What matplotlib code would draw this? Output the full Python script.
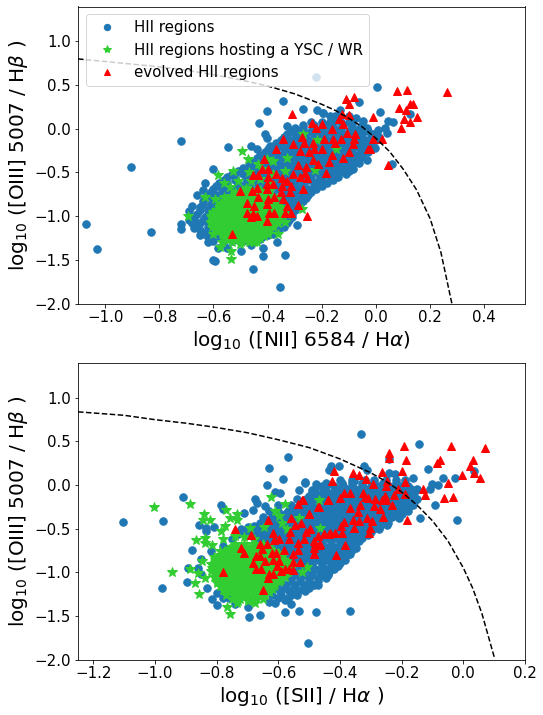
import matplotlib
matplotlib.use('Agg')
import matplotlib.pyplot as plt

# values, (log x ratio, log [OIII]/Hb)
nii_hii = [
    (-1.07, -1.09), (-1.03, -1.38), (-0.904, -0.436), (-0.83, -1.18), (-0.719, -0.135), (-0.545, -0.208),
    (-0.22, 0.59), (0.005, 0.477), (-0.342, 0.318), (-0.404, 0.203), (-0.431, 0.07), (-0.271, 0.222),
    (-0.219, 0.211), (-0.197, 0.181), (-0.062, 0.306), (-0.133, 0.211), (-0.152, 0.146), (0.014, 0.192),
    (0.125, 0.165), (0.045, 0.089), (0.061, 0.074), (0.033, 0.013), (0.008, -0.017), (0.039, -0.052),
    (0.005, -0.082), (-0.047, 0.089), (-0.074, 0.12), (-0.035, 0.013), (-0.035, -0.36), (-0.062, -0.394),
    (-0.086, -0.463), (0.058, -0.406), (-0.004, -0.223), (-0.197, 0.177), (-0.158, 0.127), (-0.33, 0.032),
    (-0.41, -0.063), (-0.404, -0.101), (-0.355, -1.806), (-0.453, -1.61), (-0.336, -1.444), (-0.594, -1.509),
    (-0.416, -1.368), (-0.416, -1.452), (-0.364, -1.292), (-0.293, -1.102), (-0.6, -0.46), (-0.63, -0.62),
    (-0.72, -1.09), (-0.72, -1.15), (-0.68, -0.88), (-0.69, -0.94), (-0.66, -0.76), (-0.64, -0.7),
    (-0.6, -1.5), (-0.585, -1.36), (-0.62, -1.3), (-0.65, -1.22), (-0.67, -1.13), (-0.69, -1.04),
    (-0.55, -1.36), (-0.5, -1.4), (-0.46, -1.33), (-0.43, -1.26), (-0.4, -1.22), (-0.36, -1.17),
]
# dense part of the same series, one row per [OIII]/Hb level
nii_hii_oiii = [-1.28, -1.2, -1.12, -1.04, -0.97, -0.9, -0.83, -0.76, -0.69, -0.62, -0.55, -0.48, -0.41, -0.34, -0.27, -0.2, -0.13, -0.06, 0.01, 0.08, 0.15,
                -0.585, -0.515, -0.445, -0.375, -0.305, -0.235, -0.165, -0.095, -0.025, 0.045, -0.655, -0.725, -0.795, -0.865, -0.935, -1.005, -1.08, -1.16, -1.24]
nii_hii_rows = [
    [-0.6, -0.56, -0.53, -0.49, -0.45],
    [-0.63, -0.59, -0.56, -0.52, -0.49, -0.45, -0.42, -0.38],
    [-0.66, -0.62, -0.59, -0.55, -0.52, -0.48, -0.45, -0.41, -0.38, -0.34],
    [-0.67, -0.64, -0.6, -0.57, -0.53, -0.5, -0.46, -0.43, -0.39, -0.36, -0.32],
    [-0.66, -0.62, -0.59, -0.55, -0.52, -0.48, -0.45, -0.41, -0.38, -0.34, -0.31],
    [-0.65, -0.61, -0.58, -0.54, -0.51, -0.47, -0.44, -0.4, -0.37, -0.33, -0.3],
    [-0.64, -0.6, -0.57, -0.53, -0.5, -0.46, -0.43, -0.39, -0.36, -0.32, -0.29, -0.27],
    [-0.62, -0.59, -0.55, -0.52, -0.48, -0.45, -0.41, -0.38, -0.34, -0.31, -0.27, -0.25],
    [-0.6, -0.57, -0.53, -0.5, -0.46, -0.43, -0.39, -0.36, -0.32, -0.29, -0.25, -0.22],
    [-0.58, -0.55, -0.51, -0.48, -0.44, -0.41, -0.37, -0.34, -0.3, -0.27, -0.23, -0.2, -0.18],
    [-0.55, -0.52, -0.48, -0.45, -0.41, -0.38, -0.34, -0.31, -0.27, -0.24, -0.2, -0.17, -0.14],
    [-0.51, -0.47, -0.44, -0.4, -0.37, -0.33, -0.3, -0.26, -0.23, -0.19, -0.16, -0.12, -0.1],
    [-0.47, -0.44, -0.4, -0.37, -0.33, -0.3, -0.26, -0.23, -0.19, -0.16, -0.12, -0.09],
    [-0.44, -0.41, -0.37, -0.34, -0.3, -0.27, -0.23, -0.2, -0.16, -0.13, -0.09, -0.06],
    [-0.41, -0.38, -0.34, -0.31, -0.27, -0.24, -0.2, -0.17, -0.13, -0.1, -0.06, -0.03],
    [-0.46, -0.39, -0.35, -0.32, -0.28, -0.25, -0.21, -0.18, -0.14, -0.11, -0.07, -0.04],
    [-0.35, -0.32, -0.28, -0.25, -0.21, -0.18, -0.14, -0.11, -0.07, -0.04, 0.0],
    [-0.33, -0.29, -0.26, -0.22, -0.19, -0.15, -0.12, -0.08, -0.05, -0.01],
    [-0.3, -0.27, -0.23, -0.2, -0.16, -0.13, -0.09, -0.06],
    [-0.24, -0.2, -0.17, -0.13, -0.1],
    [-0.17, -0.14, -0.1],
    [-0.56, -0.52, -0.47, -0.43, -0.39, -0.35, -0.31, -0.25, -0.21, -0.16],
    [-0.53, -0.49, -0.46, -0.42, -0.35, -0.32, -0.28, -0.24, -0.21, -0.18, -0.14, -0.11],
    [-0.49, -0.45, -0.42, -0.38, -0.35, -0.31, -0.28, -0.24, -0.21, -0.17, -0.14, -0.11],
    [-0.46, -0.42, -0.39, -0.35, -0.32, -0.28, -0.25, -0.21, -0.18, -0.14, -0.11, -0.07],
    [-0.43, -0.39, -0.36, -0.32, -0.29, -0.25, -0.22, -0.18, -0.15, -0.11, -0.08, -0.05],
    [-0.44, -0.4, -0.37, -0.33, -0.3, -0.26, -0.23, -0.19, -0.16, -0.12, -0.09, -0.05, -0.02],
    [-0.37, -0.33, -0.3, -0.26, -0.23, -0.19, -0.16, -0.12, -0.09, -0.05, -0.02],
    [-0.34, -0.3, -0.27, -0.23, -0.2, -0.16, -0.13, -0.09, -0.06, -0.02, 0.01],
    [-0.31, -0.28, -0.24, -0.21, -0.17, -0.14, -0.1, -0.07, -0.03],
    [-0.27, -0.23, -0.19, -0.16, -0.12, -0.09, -0.05],
    [-0.59, -0.55, -0.51, -0.47, -0.34, -0.3, -0.27, -0.23, -0.2],
    [-0.61, -0.57, -0.53, -0.33, -0.3, -0.27, -0.24],
    [-0.63, -0.6, -0.56, -0.34, -0.31, -0.28, -0.26],
    [-0.64, -0.61, -0.58, -0.34, -0.31, -0.28],
    [-0.65, -0.62, -0.59, -0.33, -0.3],
    [-0.67, -0.63, -0.6, -0.34, -0.31],
    [-0.68, -0.65, -0.62, -0.36, -0.33],
    [-0.65, -0.62, -0.39, -0.36],
    [-0.62, -0.58, -0.42],
]

nii_wr = [
    (-0.693, -0.995), (-0.631, -0.778), (-0.582, -0.527), (-0.527, -0.482), (-0.494, -0.253), (-0.471, -0.348),
    (-0.435, -0.405), (-0.379, -0.367), (-0.328, -0.337), (-0.336, -0.482), (-0.268, -0.063), (-0.216, -0.128),
    (-0.146, -0.234), (-0.225, -0.474), (-0.539, -0.672), (-0.508, -0.596), (-0.594, -0.805), (-0.576, -1.357),
    (-0.535, -1.395), (-0.535, -1.49), (-0.336, -1.071), (-0.398, -1.166), (-0.502, -1.319), (-0.275, -0.919),
    (-0.404, -0.348), (-0.47, -0.5), (-0.43, -0.58), (-0.39, -0.62), (-0.48, -0.68), (-0.44, -0.72),
    (-0.52, -0.72), (-0.56, -0.78), (-0.42, -0.46), (-0.38, -0.52), (-0.46, -0.6), (-0.56, -0.62),
    (-0.61, -1.07), (-0.6, -1.2), (-0.57, -1.3), (-0.44, -1.3), (-0.36, -1.2), (-0.33, -0.98),
]
nii_wr_oiii = [-0.7, -0.75, -0.8, -0.85, -0.9, -0.95, -1.0, -1.05, -1.1, -1.15, -1.2, -1.25, -1.3,
               -0.725, -0.775, -0.825, -0.875, -0.925, -0.975, -1.025, -1.075, -1.125, -1.175, -1.225, -1.275]
nii_wr_rows = [
    [-0.49, -0.46, -0.43, -0.39],
    [-0.52, -0.49, -0.46, -0.43, -0.4],
    [-0.55, -0.52, -0.49, -0.46, -0.43, -0.4, -0.37],
    [-0.57, -0.54, -0.52, -0.49, -0.47, -0.44, -0.41, -0.38],
    [-0.58, -0.56, -0.53, -0.51, -0.48, -0.46, -0.43, -0.41, -0.38, -0.35],
    [-0.6, -0.57, -0.55, -0.52, -0.5, -0.47, -0.45, -0.42, -0.4, -0.37, -0.35],
    [-0.61, -0.58, -0.56, -0.53, -0.51, -0.48, -0.46, -0.43, -0.41, -0.38, -0.36],
    [-0.6, -0.57, -0.55, -0.52, -0.5, -0.47, -0.45, -0.42, -0.4, -0.37],
    [-0.6, -0.58, -0.55, -0.53, -0.5, -0.48, -0.45, -0.43, -0.4, -0.38],
    [-0.59, -0.56, -0.54, -0.51, -0.49, -0.46, -0.44, -0.41, -0.39],
    [-0.57, -0.55, -0.52, -0.5, -0.47, -0.45, -0.42, -0.4],
    [-0.55, -0.53, -0.5, -0.48, -0.45, -0.43],
    [-0.53, -0.5, -0.47, -0.45],
    [-0.505, -0.475, -0.445, -0.415],
    [-0.535, -0.505, -0.475, -0.445, -0.415, -0.385],
    [-0.56, -0.53, -0.505, -0.475, -0.45, -0.42, -0.39],
    [-0.575, -0.55, -0.525, -0.5, -0.475, -0.45, -0.425, -0.395, -0.365],
    [-0.59, -0.565, -0.54, -0.515, -0.49, -0.465, -0.44, -0.415, -0.39, -0.36],
    [-0.6, -0.575, -0.55, -0.525, -0.5, -0.475, -0.45, -0.425, -0.4, -0.375, -0.35],
    [-0.605, -0.58, -0.555, -0.53, -0.505, -0.48, -0.455, -0.43, -0.405, -0.38, -0.355],
    [-0.61, -0.585, -0.56, -0.535, -0.51, -0.485, -0.46, -0.435, -0.41, -0.385, -0.36],
    [-0.605, -0.58, -0.555, -0.53, -0.505, -0.48, -0.455, -0.43, -0.405, -0.38],
    [-0.58, -0.555, -0.53, -0.505, -0.48, -0.455, -0.43, -0.405],
    [-0.565, -0.54, -0.515, -0.49, -0.465, -0.44, -0.415],
    [-0.545, -0.52, -0.495, -0.47, -0.445],
]

nii_evolved = [
    (-0.112, 0.337), (-0.08, 0.367), (-0.1, 0.279), (-0.309, 0.165), (-0.127, 0.173), (-0.136, 0.116),
    (-0.099, 0.154), (-0.235, 0.07), (-0.201, 0.051), (-0.222, 0.013), (-0.121, 0.051), (-0.161, -0.006),
    (-0.106, -0.044), (-0.078, -0.063), (-0.08, -0.12), (-0.029, -0.234), (-0.342, -0.112), (-0.275, -0.09),
    (-0.305, -0.177), (-0.265, -0.158), (-0.232, -0.158), (-0.191, -0.12), (-0.158, -0.12), (-0.13, -0.112),
    (-0.152, -0.158), (-0.084, -0.17), (-0.229, -0.234), (-0.246, -0.265), (-0.198, -0.234), (-0.281, -0.253),
    (-0.164, -0.303), (-0.099, -0.265), (-0.121, -0.337), (-0.369, -0.234), (-0.412, -0.348), (-0.232, -0.36),
    (-0.173, -0.379), (-0.213, -0.405), (-0.287, -0.417), (-0.26, -0.432), (-0.4, -0.455), (-0.422, -0.455),
    (-0.262, -0.501), (-0.308, -0.512), (-0.186, -0.501), (-0.453, -0.531), (-0.435, -0.531), (-0.369, -0.512),
    (-0.398, -0.55), (-0.256, -0.558), (-0.281, -0.55), (-0.346, -0.565), (-0.33, -0.596), (-0.315, -0.653),
    (-0.404, -0.634), (-0.379, -0.634), (-0.348, -0.653), (-0.438, -0.679), (-0.268, -0.691), (-0.502, -0.717),
    (-0.459, -0.717), (-0.404, -0.691), (-0.352, -0.729), (-0.318, -0.729), (-0.435, -0.778), (-0.377, -0.786),
    (-0.4, -0.805), (-0.342, -0.805), (-0.475, -0.854), (-0.404, -0.862), (-0.289, -0.873), (-0.449, -0.881),
    (-0.328, -0.881), (-0.394, -0.969), (-0.478, -0.969), (-0.453, -0.976), (-0.441, -0.995), (-0.377, -0.969),
    (-0.336, -0.969), (-0.314, -0.969), (-0.256, -1.003), (-0.462, -1.014), (-0.401, -1.06), (-0.53, -1.205),
    (0.078, 0.432), (0.115, 0.443), (0.263, 0.42), (0.086, 0.241), (0.125, 0.287), (0.135, 0.287),
    (0.11, 0.215), (0.152, 0.139), (0.104, 0.116), (0.125, 0.081), (0.093, 0.013), (-0.01, 0.139),
    (0.023, -0.12), (-0.01, -0.12), (-0.022, -0.234), (0.043, -0.409),
]

sii_hii = [
    (-1.104, -0.425), (-0.911, -0.14), (-0.973, -0.414), (-0.978, -1.182), (-0.892, -0.954), (-0.895, -1.114),
    (-0.881, -0.748), (-0.859, -0.452), (-0.834, -0.49), (-0.834, -0.53), (-0.787, -0.231), (-0.78, -0.273),
    (-0.81, -0.482), (-0.713, -0.318), (-0.683, -0.28), (-0.643, -0.242), (-0.67, -0.204), (-0.677, -0.155),
    (-0.637, 0.005), (-0.629, 0.195), (-0.57, 0.317), (-0.586, 0.074), (-0.515, 0.028), (-0.534, -0.052),
    (-0.477, 0.016), (-0.445, 0.024), (-0.491, -0.052), (-0.594, -0.09), (-0.61, -0.08), (-0.694, -1.509),
    (-0.661, -1.49), (-0.578, -1.452), (-0.534, -1.441), (-0.479, -1.452), (-0.612, -1.353), (-0.558, -1.365),
    (-0.8, -1.376), (-0.816, -1.308), (-0.7, -1.403), (-0.503, -1.806), (-0.333, 0.587), (-0.145, 0.473),
    (-0.116, 0.188), (-0.164, 0.081), (-0.066, 0.081), (-0.026, 0.081), (0.034, 0.157), (-0.102, 0.016),
    (-0.082, 0.005), (-0.107, -0.044), (-0.091, -0.223), (-0.142, -0.383), (-0.021, -0.406), (-0.164, -0.23),
    (-0.183, -0.242), (-0.21, -0.376), (-0.248, -0.463), (-0.285, -0.49), (-0.349, -0.718), (-0.367, -0.794),
    (-0.388, -0.851), (-0.413, -0.916), (-0.369, -1.441), (-0.428, 0.214), (-0.404, 0.214), (-0.437, 0.169),
    (-0.323, 0.222), (-0.313, 0.169), (-0.242, 0.138), (-0.221, 0.127), (-0.242, 0.302), (-0.515, 0.032),
    (-0.442, 0.005), (-0.394, 0.024), (-0.356, 0.043), (-0.85, -0.85), (-0.86, -0.95), (-0.85, -1.02),
    (-0.83, -1.18), (-0.8, -1.24), (-0.82, -0.76), (-0.78, -0.7), (-0.75, -0.62), (-0.73, -0.56),
    (-0.7, -0.48), (-0.78, -1.3), (-0.74, -1.36), (-0.63, -1.34), (-0.58, -1.32),
]
sii_hii_oiii = [-1.26, -1.18, -1.1, -1.03, -0.96, -0.89, -0.82, -0.75, -0.68, -0.61, -0.54, -0.47, -0.4, -0.33, -0.26, -0.19, -0.12, -0.05, 0.02,
                -1.22, -1.14, -1.065, -0.995, -0.925, -0.855, -0.785, -0.715, -0.645, -0.575, -0.505, -0.435, -0.365, -0.295, -0.225, -0.155, -0.085, -0.015, 0.06, -1.3]
sii_hii_rows = [
    [-0.65, -0.62, -0.59, -0.56, -0.54],
    [-0.64, -0.61, -0.58, -0.55, -0.52, -0.5],
    [-0.62, -0.59, -0.56, -0.53, -0.5, -0.47],
    [-0.61, -0.58, -0.55, -0.52, -0.49, -0.46, -0.44],
    [-0.6, -0.57, -0.54, -0.51, -0.48, -0.45, -0.42],
    [-0.61, -0.58, -0.55, -0.52, -0.49, -0.46, -0.43, -0.4],
    [-0.6, -0.57, -0.54, -0.51, -0.48, -0.45, -0.42, -0.39],
    [-0.62, -0.59, -0.56, -0.53, -0.5, -0.47, -0.44, -0.41, -0.38, -0.36],
    [-0.64, -0.61, -0.58, -0.55, -0.52, -0.49, -0.46, -0.43, -0.4, -0.37, -0.35],
    [-0.68, -0.65, -0.62, -0.59, -0.56, -0.53, -0.5, -0.47, -0.44, -0.41, -0.38, -0.35, -0.33],
    [-0.71, -0.68, -0.65, -0.62, -0.59, -0.56, -0.53, -0.5, -0.47, -0.44, -0.41, -0.38, -0.35, -0.32, -0.3],
    [-0.68, -0.65, -0.62, -0.59, -0.56, -0.53, -0.5, -0.47, -0.44, -0.41, -0.38, -0.35, -0.32, -0.29, -0.27],
    [-0.64, -0.61, -0.58, -0.55, -0.52, -0.49, -0.46, -0.43, -0.4, -0.37, -0.34, -0.31, -0.28, -0.25],
    [-0.58, -0.55, -0.52, -0.49, -0.46, -0.43, -0.4, -0.37, -0.34, -0.31, -0.28, -0.25, -0.22, -0.2],
    [-0.55, -0.52, -0.49, -0.46, -0.43, -0.4, -0.37, -0.34, -0.31, -0.28, -0.25, -0.22, -0.19],
    [-0.52, -0.49, -0.46, -0.43, -0.4, -0.37, -0.34, -0.31, -0.28, -0.25, -0.22, -0.19, -0.16],
    [-0.5, -0.47, -0.44, -0.41, -0.38, -0.35, -0.32, -0.29, -0.26, -0.23, -0.2, -0.17],
    [-0.48, -0.45, -0.41, -0.38, -0.35, -0.32, -0.29, -0.26, -0.23, -0.2, -0.17, -0.15],
    [-0.36, -0.33, -0.29, -0.26, -0.22, -0.19],
    [-0.655, -0.625, -0.595, -0.565, -0.535, -0.515],
    [-0.635, -0.605, -0.575, -0.545, -0.515, -0.485, -0.47],
    [-0.62, -0.59, -0.56, -0.53, -0.5, -0.47, -0.445],
    [-0.615, -0.585, -0.555, -0.525, -0.495, -0.465, -0.435],
    [-0.61, -0.58, -0.55, -0.52, -0.49, -0.46, -0.43, -0.405],
    [-0.59, -0.56, -0.53, -0.5, -0.47, -0.44, -0.41, -0.385],
    [-0.58, -0.55, -0.52, -0.49, -0.46, -0.43, -0.4, -0.37],
    [-0.6, -0.57, -0.54, -0.51, -0.48, -0.45, -0.42, -0.39, -0.355],
    [-0.67, -0.64, -0.61, -0.58, -0.55, -0.52, -0.49, -0.46, -0.43, -0.4, -0.37, -0.34],
    [-0.7, -0.67, -0.64, -0.61, -0.58, -0.55, -0.52, -0.49, -0.46, -0.43, -0.4, -0.37, -0.34, -0.31],
    [-0.72, -0.69, -0.66, -0.63, -0.6, -0.57, -0.54, -0.51, -0.48, -0.45, -0.42, -0.39, -0.36, -0.33, -0.3, -0.275],
    [-0.66, -0.63, -0.6, -0.57, -0.54, -0.51, -0.48, -0.45, -0.42, -0.39, -0.36, -0.33, -0.3, -0.27, -0.245],
    [-0.65, -0.62, -0.59, -0.56, -0.53, -0.5, -0.47, -0.44, -0.41, -0.38, -0.35, -0.32, -0.29, -0.26, -0.23],
    [-0.63, -0.6, -0.57, -0.54, -0.51, -0.48, -0.45, -0.42, -0.39, -0.36, -0.33, -0.3, -0.27, -0.24, -0.21, -0.18],
    [-0.6, -0.56, -0.53, -0.5, -0.47, -0.44, -0.41, -0.38, -0.35, -0.32, -0.29, -0.26, -0.23, -0.2, -0.17],
    [-0.54, -0.51, -0.48, -0.45, -0.42, -0.39, -0.36, -0.33, -0.3, -0.27, -0.24, -0.21, -0.18, -0.15],
    [-0.49, -0.46, -0.43, -0.4, -0.37, -0.34, -0.31, -0.28, -0.25, -0.22, -0.19, -0.16],
    [-0.46, -0.42, -0.39, -0.36, -0.33, -0.3, -0.27, -0.24, -0.21, -0.18],
    [-0.4, -0.36, -0.32, -0.29, -0.25, -0.22, -0.19],
    [-0.76, -0.6, -0.57],
]

sii_wr = [
    (-1.005, -0.254), (-0.888, -0.212), (-0.944, -0.996), (-0.841, -0.337), (-0.823, -0.395), (-0.843, -0.395),
    (-0.868, -0.63), (-0.837, -0.604), (-0.837, -0.661), (-0.77, -0.28), (-0.758, -0.376), (-0.735, -0.337),
    (-0.735, -0.395), (-0.787, -0.528), (-0.773, -0.471), (-0.78, -0.623), (-0.816, -0.691), (-0.848, -0.87),
    (-0.886, -0.965), (-0.862, -1.003), (-0.872, -1.125), (-0.856, -1.251), (-0.837, -1.06), (-0.767, -1.395),
    (-0.756, -1.479), (-0.735, -1.357), (-0.675, -1.353), (-0.624, -0.136), (-0.58, -0.212), (-0.612, -0.299),
    (-0.599, -0.349), (-0.589, -0.44), (-0.648, -0.478), (-0.691, -0.49), (-0.572, -0.501), (-0.534, -0.376),
    (-0.469, -0.166), (-0.466, -0.497), (-0.524, -0.992), (-0.507, -0.935), (-0.594, -1.099), (-0.621, -1.194),
    (-0.742, -0.58), (-0.71, -0.6), (-0.68, -0.62), (-0.6, -1.0), (-0.57, -1.0), (-0.56, -0.92),
    (-0.79, -0.76), (-0.81, -0.83), (-0.82, -0.9), (-0.82, -0.98), (-0.81, -1.05), (-0.8, -1.12),
]
sii_wr_oiii = [-0.68, -0.73, -0.78, -0.83, -0.88, -0.93, -0.98, -1.03, -1.08, -1.13, -1.18, -1.23, -1.28, -1.33,
               -0.705, -0.755, -0.805, -0.855, -0.905, -0.955, -1.005, -1.055, -1.105, -1.155, -1.205, -1.255, -1.305]
sii_wr_rows = [
    [-0.74, -0.71, -0.68, -0.65],
    [-0.76, -0.73, -0.71, -0.68, -0.66, -0.63],
    [-0.78, -0.75, -0.73, -0.7, -0.68, -0.65, -0.63, -0.6],
    [-0.79, -0.77, -0.74, -0.72, -0.69, -0.67, -0.64, -0.62, -0.59],
    [-0.8, -0.77, -0.75, -0.72, -0.7, -0.67, -0.65, -0.62, -0.6, -0.57],
    [-0.8, -0.78, -0.75, -0.73, -0.7, -0.68, -0.65, -0.63, -0.6, -0.58],
    [-0.8, -0.77, -0.75, -0.72, -0.7, -0.67, -0.65, -0.62, -0.6, -0.57],
    [-0.79, -0.77, -0.74, -0.72, -0.69, -0.67, -0.64, -0.62, -0.59],
    [-0.79, -0.76, -0.74, -0.71, -0.69, -0.66, -0.64, -0.61, -0.59],
    [-0.78, -0.76, -0.73, -0.71, -0.68, -0.66, -0.63, -0.61],
    [-0.77, -0.74, -0.72, -0.69, -0.67, -0.64, -0.62],
    [-0.76, -0.73, -0.71, -0.68, -0.66, -0.63],
    [-0.74, -0.71, -0.69, -0.66],
    [-0.73, -0.7, -0.68],
    [-0.755, -0.725, -0.695, -0.665, -0.635],
    [-0.775, -0.745, -0.72, -0.695, -0.67, -0.645, -0.615],
    [-0.79, -0.765, -0.74, -0.715, -0.69, -0.665, -0.64, -0.615, -0.59],
    [-0.805, -0.78, -0.755, -0.73, -0.705, -0.68, -0.655, -0.63, -0.605, -0.58],
    [-0.815, -0.79, -0.765, -0.74, -0.715, -0.69, -0.665, -0.64, -0.615, -0.59, -0.56],
    [-0.815, -0.79, -0.765, -0.74, -0.715, -0.69, -0.665, -0.64, -0.615, -0.59, -0.56],
    [-0.81, -0.785, -0.76, -0.735, -0.71, -0.685, -0.66, -0.635, -0.61, -0.585],
    [-0.805, -0.78, -0.755, -0.73, -0.705, -0.68, -0.655, -0.63, -0.605, -0.58],
    [-0.8, -0.775, -0.75, -0.725, -0.7, -0.675, -0.65, -0.625, -0.6],
    [-0.79, -0.765, -0.74, -0.715, -0.69, -0.665, -0.64, -0.615],
    [-0.78, -0.755, -0.73, -0.705, -0.68, -0.655, -0.63],
    [-0.77, -0.745, -0.72, -0.695, -0.67, -0.645],
    [-0.75, -0.725, -0.7, -0.675, -0.65],
]

sii_evolved = [
    (-0.742, -0.509), (-0.635, -0.395), (-0.688, -0.577), (-0.721, -0.718), (-0.71, -0.775), (-0.781, -0.992),
    (-0.65, -1.205), (-0.661, -0.672), (-0.637, -0.672), (-0.653, -0.729), (-0.672, -0.813), (-0.659, -0.813),
    (-0.643, -0.87), (-0.681, -0.889), (-0.672, -0.965), (-0.656, -0.958), (-0.632, -1.015), (-0.618, -1.015),
    (-0.635, -1.06), (-0.621, -0.775), (-0.608, -0.775), (-0.616, -0.863), (-0.599, -0.87), (-0.605, -0.927),
    (-0.592, -0.984), (-0.578, -0.958), (-0.564, -0.958), (-0.551, -0.973), (-0.553, -0.878), (-0.554, -0.794),
    (-0.583, -0.748), (-0.531, -0.878), (-0.537, -0.748), (-0.537, -0.661), (-0.567, -0.615), (-0.613, -0.634),
    (-0.599, -0.623), (-0.618, -0.547), (-0.562, -0.535), (-0.559, -0.376), (-0.547, -0.452), (-0.527, -0.44),
    (-0.537, -0.212), (-0.522, -0.166), (-0.502, -0.326), (-0.47, -0.25), (-0.44, -0.166), (-0.511, -0.535),
    (-0.499, -0.509), (-0.516, -0.623), (-0.486, -0.718), (-0.486, -0.794), (-0.466, -0.68), (-0.47, -0.585),
    (-0.453, -0.566), (-0.437, -0.558), (-0.483, -0.642), (-0.194, 0.443), (-0.242, 0.367), (-0.24, 0.309),
    (-0.187, 0.29), (-0.041, 0.443), (0.069, 0.424), (-0.077, 0.29), (-0.087, 0.252), (0.031, 0.29),
    (0.021, 0.214), (0.034, 0.138), (-0.005, 0.119), (0.053, 0.081), (-0.051, 0.024), (-0.418, 0.165),
    (-0.359, 0.138), (-0.337, 0.119), (-0.264, 0.15), (-0.199, 0.157), (-0.316, 0.073), (-0.293, 0.016),
    (-0.248, 0.051), (-0.251, -0.006), (-0.19, 0.035), (-0.427, 0.051), (-0.213, -0.044), (-0.226, -0.109),
    (-0.188, -0.102), (-0.132, -0.044), (-0.123, -0.109), (-0.064, -0.147), (-0.034, -0.132), (-0.369, -0.09),
    (-0.388, -0.09), (-0.399, -0.147), (-0.44, -0.166), (-0.52, -0.166), (-0.327, -0.09), (-0.32, -0.14),
    (-0.309, -0.147), (-0.285, -0.159), (-0.253, -0.128), (-0.264, -0.166), (-0.25, -0.166), (-0.334, -0.223),
    (-0.367, -0.261), (-0.343, -0.307), (-0.291, -0.242), (-0.269, -0.269), (-0.231, -0.231), (-0.469, -0.25),
    (-0.502, -0.326), (-0.359, -0.395), (-0.34, -0.414), (-0.388, -0.421), (-0.397, -0.471), (-0.313, -0.383),
    (-0.296, -0.414), (-0.356, -0.49), (-0.302, -0.497), (-0.307, -0.547), (-0.262, -0.364), (-0.184, -0.406),
    (-0.499, -0.509), (-0.394, -0.547), (-0.415, -0.547), (-0.434, -0.554), (-0.453, -0.566), (-0.385, -0.691),
    (-0.413, -0.806), (-0.48, -0.68), (-0.469, -0.687), (-0.486, -0.794),
]

# dashed demarcation curves
nii_curve_x = [-1.1, -1.0, -0.9, -0.8, -0.7, -0.6, -0.5, -0.4, -0.3, -0.2, -0.15, -0.1, -0.05, 0.0, 0.05, 0.1, 0.15, 0.2, 0.24, 0.28]
nii_curve_y = [0.80, 0.77, 0.74, 0.71, 0.67, 0.62, 0.56, 0.49, 0.40, 0.28, 0.21, 0.12, 0.02, -0.11, -0.26, -0.46, -0.70, -1.03, -1.42, -2.0]
sii_curve_x = [-1.25, -1.1, -1.0, -0.9, -0.8, -0.7, -0.6, -0.5, -0.4, -0.3, -0.25, -0.2, -0.15, -0.1, -0.05, 0.0, 0.03, 0.06, 0.1]
sii_curve_y = [0.84, 0.80, 0.75, 0.71, 0.66, 0.60, 0.52, 0.43, 0.30, 0.14, 0.04, -0.08, -0.23, -0.41, -0.64, -0.95, -1.18, -1.47, -1.97]

hii_label = 'HII regions'
wr_label = 'HII regions hosting a YSC / WR'
evolved_label = 'evolved HII regions'
oiii_label = r'log$_{10}$ ([OIII] 5007 / H$\beta$ )'


def with_rows(points, oiii_levels, rows):
    # loose points plus the rows of the dense part
    xs = [p[0] for p in points]
    ys = [p[1] for p in points]
    for level, row in zip(oiii_levels, rows):
        xs += row
        ys += [level] * len(row)
    return xs, ys


def draw_panel(ax, hii, wr, evolved, curve_x, curve_y):
    ax.plot(hii[0], hii[1], 'o', color='tab:blue', ms=7.5, label=hii_label)
    ax.plot(wr[0], wr[1], '*', color='limegreen', ms=10, label=wr_label)
    ax.plot(*zip(*evolved), '^', color='red', ms=7.5, label=evolved_label)
    ax.plot(curve_x, curve_y, '--', color='black', lw=1.5)
    ax.set_ylim(-2, 1.4)
    ax.set_ylabel(oiii_label, fontsize=20)
    ax.tick_params(labelsize=15)


fig = plt.figure(figsize=(543 / 72, 715 / 72), dpi=72)
ax1 = fig.add_axes([78 / 543, 1 - 303.5 / 715, 447 / 543, 297 / 715])
ax2 = fig.add_axes([78 / 543, 1 - 659.5 / 715, 447 / 543, 296.5 / 715])

draw_panel(ax1, with_rows(nii_hii, nii_hii_oiii, nii_hii_rows), with_rows(nii_wr, nii_wr_oiii, nii_wr_rows),
           nii_evolved, nii_curve_x, nii_curve_y)
ax1.set_xlim(-1.1, 0.55)
ax1.set_xlabel(r'log$_{10}$ ([NII] 6584 / H$\alpha$)', fontsize=20)
ax1.legend(loc='upper left', fontsize=15, markerscale=0.85)

draw_panel(ax2, with_rows(sii_hii, sii_hii_oiii, sii_hii_rows), with_rows(sii_wr, sii_wr_oiii, sii_wr_rows),
           sii_evolved, sii_curve_x, sii_curve_y)
ax2.set_xlim(-1.25, 0.2)
ax2.set_xlabel(r'log$_{10}$ ([SII] / H$\alpha$ )', fontsize=20)

fig.savefig('out.png', dpi=72)
